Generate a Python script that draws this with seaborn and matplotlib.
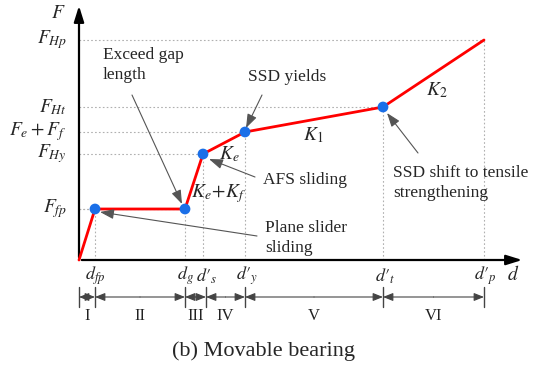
import matplotlib
matplotlib.use("Agg")
import matplotlib.pyplot as plt
import seaborn as sns
import pandas as pd

# Force-displacement backbone of the movable bearing
d_vals = [0, 16, 106, 124, 166, 304, 405]
F_vals = [0, 51, 51, 106, 128, 153, 220]
key_idx = [1, 2, 3, 4, 5]

d_labels = ["", r"$d_{fp}$", r"$d_g$", r"$d{\prime}_{s}$", r"$d{\prime}_{y}$",
            r"$d{\prime}_{t}$", r"$d{\prime}_{p}$"]
d_label_shift = [0, 0, 0, 4, 2, 2, 1]
F_labels = {1: r"$F_{fp}$", 3: r"$F_{Hy}$", 4: r"$F_e+F_f$", 5: r"$F_{Ht}$", 6: r"$F_{Hp}$"}
stage_edges = [0, 16, 106, 127, 166, 304, 405]
stage_names = ["I", "II", "III", "IV", "V", "VI"]

sns.set_theme(style="white")
plt.rcParams["font.family"] = ["Liberation Serif", "DejaVu Serif"]
plt.rcParams["mathtext.fontset"] = "stix"

fig = plt.figure(figsize=(5.45, 3.69), dpi=100)
ax = fig.add_axes([0, 0, 1, 1])

df = pd.DataFrame({"d": d_vals, "F": F_vals})

# guide lines
grid_kw = dict(color="#b0b0b0", lw=0.8, ls=(0, (1.5, 2)), zorder=1)
for i in range(1, len(d_vals)):
    ax.plot([0, d_vals[i]], [F_vals[i], F_vals[i]], **grid_kw)
    ax.plot([d_vals[i], d_vals[i]], [0, F_vals[i]], **grid_kw)

# axes arrows
arr = dict(arrowstyle="-|>,head_length=0.8,head_width=0.25", color="black", lw=1.6)
ax.annotate("", xy=(446, 0), xytext=(0, 0), arrowprops=arr)
ax.annotate("", xy=(0, 257), xytext=(0, 0), arrowprops=arr)
ax.text(-21, 247, r"$F$", fontsize=14, ha="center", va="center")
ax.text(434, -15, r"$d$", fontsize=14, ha="center", va="center")

sns.lineplot(data=df, x="d", y="F", color="#ff0000", lw=2, ax=ax, zorder=3, sort=False)
sns.scatterplot(data=df.iloc[key_idx], x="d", y="F", color="#1a6fe8", s=60,
                edgecolor="none", ax=ax, zorder=4)
ax.set_xlim(-79, 466)
ax.set_ylim(-109, 260)
ax.axis("off")

for i, lab in F_labels.items():
    ax.text(-12, F_vals[i], lab, fontsize=14, ha="right", va="center")
for i, lab in enumerate(d_labels):
    if lab:
        ax.text(d_vals[i] + d_label_shift[i], -16, lab, fontsize=13, ha="center", va="center")

# stage dimension line
ybar = -37
for e in stage_edges:
    ax.plot([e, e], [ybar - 10, ybar + 10], color="#444444", lw=1)
small = dict(arrowstyle="-|>,head_length=0.5,head_width=0.2", color="#444444", lw=0.8,
             shrinkA=0, shrinkB=0)
for a, b, name in zip(stage_edges[:-1], stage_edges[1:], stage_names):
    m = (a + b) / 2
    ax.annotate("", xy=(a, ybar), xytext=(m, ybar), arrowprops=small)
    ax.annotate("", xy=(b, ybar), xytext=(m, ybar), arrowprops=small)
    ax.text(m, ybar - 19, name, fontsize=12, ha="center", va="center", color="#222222")

ax.text(184, -91, "(b) Movable bearing", fontsize=16, ha="center", va="center")

# annotations
note = dict(arrowstyle="-|>,head_length=0.7,head_width=0.25", color="#555555", lw=0.8,
            shrinkA=0, shrinkB=0)
fs = 12.5
ax.text(24, 195, "Exceed gap\nlength", fontsize=fs, ha="left", va="center", linespacing=1.35)
ax.annotate("", xy=(103, 56), xytext=(53, 165), arrowprops=note)

ax.text(169, 183, "SSD yields", fontsize=fs, ha="left", va="center")
ax.annotate("", xy=(167, 132), xytext=(183, 165), arrowprops=note)

ax.text(184, 80, "AFS sliding", fontsize=fs, ha="left", va="center")
ax.annotate("", xy=(130, 101), xytext=(176, 83), arrowprops=note)

ax.text(314, 77, "SSD shift to tensile\nstrengthening", fontsize=fs, ha="left",
        va="center", linespacing=1.35)
ax.annotate("", xy=(308, 147), xytext=(339, 107), arrowprops=note)

ax.text(186, 22, "Plane slider\nsliding", fontsize=fs, ha="left", va="center",
        linespacing=1.35)
ax.annotate("", xy=(21, 48), xytext=(178, 24), arrowprops=note)

ax.text(140, 106, r"$K_e$", fontsize=14, ha="left", va="center")
ax.text(112, 66, r"$K_e\!+\!K_f$", fontsize=14, ha="left", va="center")
ax.text(234, 125, r"$K_1$", fontsize=14, ha="center", va="center")
ax.text(358, 170, r"$K_2$", fontsize=14, ha="center", va="center")

fig.savefig("out.png", dpi=100, facecolor="white")
